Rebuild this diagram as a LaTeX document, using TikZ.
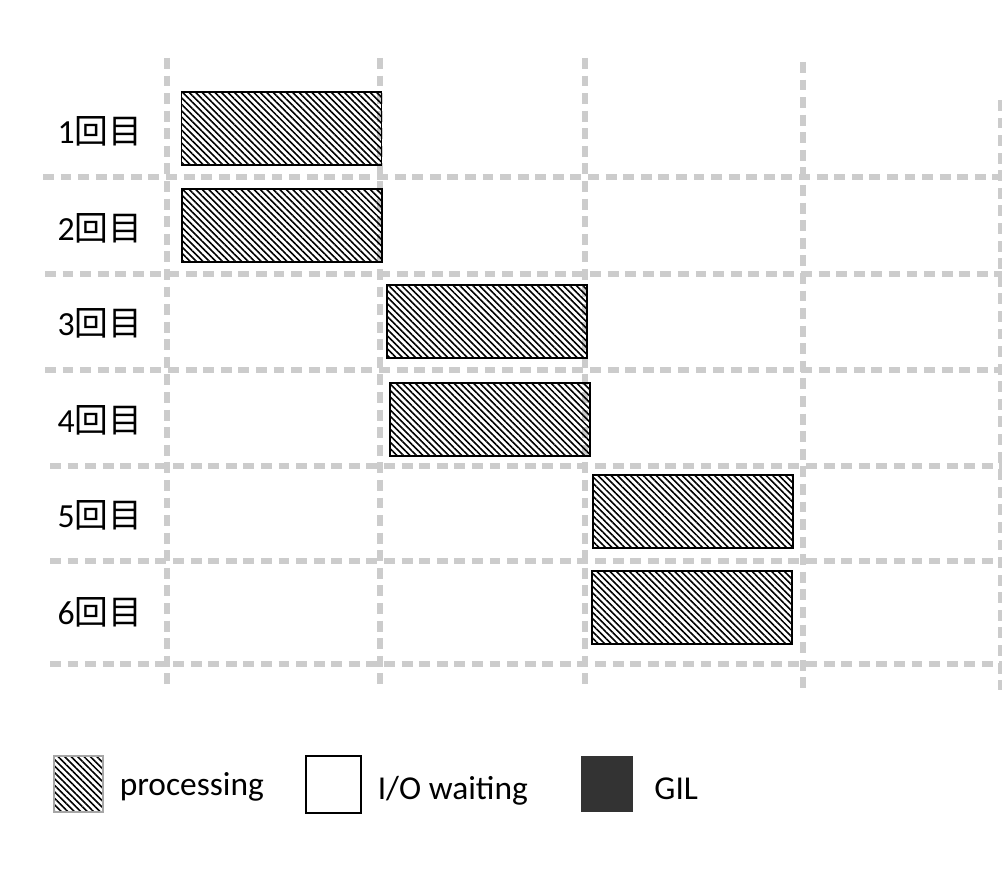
\documentclass[tikz,border=0pt]{standalone}
\usepackage{fontspec}
\setmainfont{Carlito}
\newfontfamily\jp{Noto Sans CJK JP}
\usetikzlibrary{positioning}
\usetikzlibrary{patterns.meta}

\definecolor{gridgray}{HTML}{CCCCCC}
\definecolor{gilgray}{HTML}{333333}

\tikzset{
  hatch/.style={pattern={Lines[angle=-45,distance=1.3pt,line width=0.45pt]}},
  proc/.style={draw=black,line width=0.5pt,hatch,minimum width=2cm,minimum height=0.73cm,inner sep=0pt},
  grid/.style={draw=gridgray,line width=1.5pt,dash pattern=on 3.1pt off 1.9pt},
  rowlbl/.style={font=\fontsize{9.6}{11}\selectfont,inner sep=0pt},
  legtxt/.style={font=\fontsize{9.5}{11}\selectfont,inner sep=0pt,anchor=west}
}

\begin{document}
\begin{tikzpicture}
[x=0.01cm,y=-0.01cm]

\useasboundingbox (0,0) rectangle (1002,886);

% grid
\foreach \y/\s in {177/43,274/45,370/45,466/50,561/50,664/50}
\draw[grid] (\s,\y) -- (1002,\y);
\foreach \x/\t in {167/58,380/58,585/58,803/62,1001/100}
\draw[grid] (\x,\t) -- (\x,690);

% rows
\foreach \i/\y in {1/131,2/228,3/323,4/420,5/515,6/612}
\node[rowlbl] (l\i) at (100,\y) {\i{\jp 回目}};

% processing bars
\foreach \i/\x/\y in {1/281.5/128.5,2/282/225.5,3/487/321.5,4/490/419.5,5/693/511.5,6/692/607.5}
\node[proc] (p\i) at (\x,\y) {};

% legend
\node[draw=gray!70,line width=0.6pt,hatch,minimum width=0.49cm,minimum height=0.56cm,inner sep=0pt] (kproc) at (78.5,784) {};
\node[legtxt,right=0.15cm of kproc,yshift=-0.03cm] (tproc) {processing};
\node[draw=black,line width=0.6pt,minimum width=0.55cm,minimum height=0.57cm,inner sep=0pt] (kio) at (333.5,784.5) {};
\node[legtxt,right=0.15cm of kio,yshift=-0.06cm] (tio) {I/O waiting};
\node[fill=gilgray,minimum width=0.52cm,minimum height=0.56cm,inner sep=0pt] (kgil) at (607,784) {};
\node[legtxt,right=0.20cm of kgil,yshift=-0.05cm] (tgil) {GIL};

\end{tikzpicture}
\end{document}
